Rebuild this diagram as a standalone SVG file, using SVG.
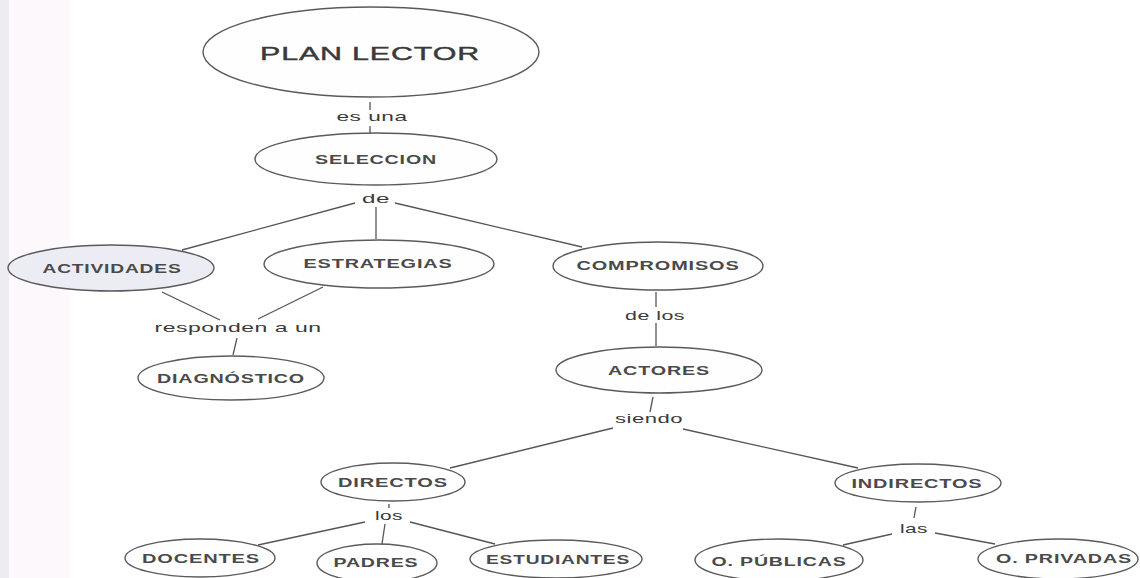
<svg xmlns="http://www.w3.org/2000/svg" width="1140" height="578" viewBox="0 0 1140 578">
<style>
.n ellipse{fill:#fefefe;stroke:#5a5a5a;stroke-width:1.4}
.n text{font-family:"Liberation Sans",Arial,sans-serif;font-size:12px;font-weight:bold;fill:#4a4a4a;text-anchor:middle;letter-spacing:0.5px}
.c line{stroke:#555;stroke-width:1.3}
.c text{font-family:"Liberation Sans",Arial,sans-serif;font-size:13px;fill:#3a3a3a;text-anchor:middle;letter-spacing:0.3px}
</style>
<rect width="1140" height="578" fill="#ffffff"/>
<rect x="0" y="0" width="70" height="578" fill="#fcf8fb"/>
<rect x="0" y="0" width="9" height="578" fill="#ededf1"/>
<g class="c" id="connectors">
<line x1="370" y1="102" x2="370" y2="110"/>
<text x="372" y="121" textLength="71" lengthAdjust="spacingAndGlyphs">es una</text>
<line x1="370" y1="126" x2="370" y2="133"/>
<text x="376" y="203" textLength="28" lengthAdjust="spacingAndGlyphs">de</text>
<line x1="355" y1="203" x2="182" y2="250"/>
<line x1="376" y1="207" x2="376" y2="239"/>
<line x1="395" y1="203" x2="582" y2="247"/>
<line x1="162" y1="292" x2="220" y2="320"/>
<line x1="323" y1="287" x2="258" y2="319"/>
<text x="238" y="332" textLength="167" lengthAdjust="spacingAndGlyphs">responden a un</text>
<line x1="237" y1="338" x2="233" y2="355"/>
<line x1="656" y1="292" x2="656" y2="307"/>
<text x="655" y="320" textLength="60" lengthAdjust="spacingAndGlyphs">de los</text>
<line x1="656" y1="323" x2="656" y2="346"/>
<line x1="653" y1="397" x2="650" y2="412"/>
<text x="649" y="423" textLength="68" lengthAdjust="spacingAndGlyphs">siendo</text>
<line x1="613" y1="428" x2="450" y2="468"/>
<line x1="683" y1="429" x2="858" y2="468"/>
<line x1="389" y1="504" x2="389" y2="508"/>
<text x="389" y="520" textLength="28" lengthAdjust="spacingAndGlyphs">los</text>
<line x1="365" y1="522" x2="258" y2="545"/>
<line x1="385" y1="524" x2="382" y2="544"/>
<line x1="410" y1="522" x2="495" y2="544"/>
<line x1="916" y1="507" x2="914" y2="518"/>
<text x="914" y="533" textLength="28" lengthAdjust="spacingAndGlyphs">las</text>
<line x1="892" y1="534" x2="843" y2="545"/>
<line x1="935" y1="533" x2="995" y2="544"/>
</g>
<g class="n" id="plan-lector"><ellipse cx="371" cy="52" rx="168" ry="45"/><text x="370" y="60" textLength="220" lengthAdjust="spacingAndGlyphs" style="font-size:18px;font-weight:normal;fill:#3a3a3a;letter-spacing:0.5px;stroke:#3a3a3a;stroke-width:0.4">PLAN LECTOR</text></g>
<g class="n" id="seleccion"><ellipse cx="376" cy="159" rx="121" ry="26"/><text x="376" y="164" textLength="122" lengthAdjust="spacingAndGlyphs">SELECCION</text></g>
<g class="n" id="actividades"><ellipse cx="111" cy="268" rx="103" ry="23" style="fill:#ececf4"/><text x="112" y="273" textLength="139" lengthAdjust="spacingAndGlyphs">ACTIVIDADES</text></g>
<g class="n" id="estrategias"><ellipse cx="379" cy="264" rx="115" ry="24"/><text x="378" y="268" textLength="149" lengthAdjust="spacingAndGlyphs">ESTRATEGIAS</text></g>
<g class="n" id="compromisos"><ellipse cx="658" cy="266" rx="105" ry="24"/><text x="658" y="270" textLength="163" lengthAdjust="spacingAndGlyphs">COMPROMISOS</text></g>
<g class="n" id="diagnostico"><ellipse cx="231" cy="378" rx="93" ry="22"/><text x="231" y="383" textLength="148" lengthAdjust="spacingAndGlyphs">DIAGNÓSTICO</text></g>
<g class="n" id="actores"><ellipse cx="659" cy="370" rx="103" ry="23"/><text x="659" y="375" textLength="102" lengthAdjust="spacingAndGlyphs">ACTORES</text></g>
<g class="n" id="directos"><ellipse cx="393" cy="482" rx="72" ry="19"/><text x="393" y="487" textLength="110" lengthAdjust="spacingAndGlyphs">DIRECTOS</text></g>
<g class="n" id="indirectos"><ellipse cx="918" cy="483" rx="83" ry="19"/><text x="917" y="488" textLength="131" lengthAdjust="spacingAndGlyphs">INDIRECTOS</text></g>
<g class="n" id="docentes"><ellipse cx="200" cy="558" rx="75" ry="19"/><text x="201" y="563" textLength="118" lengthAdjust="spacingAndGlyphs">DOCENTES</text></g>
<g class="n" id="padres"><ellipse cx="377" cy="563" rx="60" ry="19"/><text x="376" y="567" textLength="85" lengthAdjust="spacingAndGlyphs">PADRES</text></g>
<g class="n" id="estudiantes"><ellipse cx="556" cy="559" rx="86" ry="19"/><text x="558" y="564" textLength="144" lengthAdjust="spacingAndGlyphs">ESTUDIANTES</text></g>
<g class="n" id="o-publicas"><ellipse cx="779" cy="560" rx="84" ry="21"/><text x="779" y="566" textLength="135" lengthAdjust="spacingAndGlyphs">O. PÚBLICAS</text></g>
<g class="n" id="o-privadas"><ellipse cx="1058" cy="559" rx="80" ry="20"/><text x="1064" y="563" textLength="136" lengthAdjust="spacingAndGlyphs">O. PRIVADAS</text></g>
</svg>
